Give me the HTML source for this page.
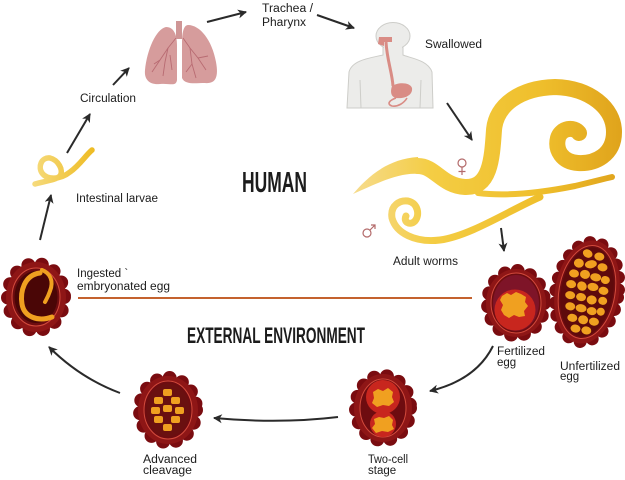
<!DOCTYPE html>
<html><head><meta charset="utf-8"><style>
html,body{margin:0;padding:0;background:#fff;}
svg{display:block;}
text{font-family:"Liberation Sans",sans-serif;fill:#1c1c1c;}
</style></head><body>
<svg width="625" height="480" viewBox="0 0 625 480" xmlns="http://www.w3.org/2000/svg">
<defs>
<marker id="ah" markerWidth="12" markerHeight="12" refX="8" refY="5" orient="auto" markerUnits="userSpaceOnUse">
<path d="M0,0.5 L9,5 L0,9.5 L2.5,5 Z" fill="#2a2a2a"/>
</marker>
<linearGradient id="wg" x1="350" y1="0" x2="620" y2="0" gradientUnits="userSpaceOnUse">
<stop offset="0" stop-color="#f6dc90"/><stop offset="0.3" stop-color="#f4cd44"/><stop offset="0.7" stop-color="#efbf2c"/><stop offset="1" stop-color="#e0a41c"/>
</linearGradient>
<linearGradient id="lg" x1="30" y1="0" x2="95" y2="0" gradientUnits="userSpaceOnUse">
<stop offset="0" stop-color="#f6dc80"/><stop offset="1" stop-color="#eebb22"/>
</linearGradient>
</defs>

<!-- ===== Arrows ===== -->
<g stroke="#2a2a2a" stroke-width="2" fill="none" marker-end="url(#ah)">
<line x1="40" y1="240" x2="51" y2="195"/>
<line x1="67" y1="153" x2="90" y2="114"/>
<line x1="113" y1="85" x2="129" y2="68"/>
<line x1="207" y1="22" x2="246" y2="12"/>
<line x1="317" y1="15" x2="354" y2="28"/>
<line x1="447" y1="103" x2="472" y2="140"/>
<line x1="501" y1="228" x2="504" y2="251"/>
<path d="M 493 346 Q 476 380 430 391"/>
<path d="M 338 417 Q 280 424 214 418"/>
<path d="M 120 393 Q 80 378 49 347"/>
</g>

<!-- ===== Lungs ===== -->
<g>
<rect x="176" y="21" width="6" height="18" fill="#cf9696"/>
<path d="M166 27 C156 29 147 50 145 70 C144 80 150 85 160 84 C170 83 176 87 177 80 L177 45 C177 35 174 27 166 27 Z" fill="#d69c9c"/>
<path d="M188 25 C200 25 212 40 216 62 C219 78 215 84 205 83 C195 83 185 85 182 78 L182 42 C182 32 184 25 188 25 Z" fill="#d69c9c"/>
<g stroke="#b86b72" stroke-width="0.9" fill="none">
<path d="M176 38 L168 48 L160 60 L152 72"/><path d="M168 48 L165 62 L163 76"/><path d="M160 60 L154 64"/><path d="M170 55 L172 70"/>
<path d="M183 38 L190 48 L198 58 L206 70"/><path d="M190 48 L192 64 L196 78"/><path d="M198 58 L208 56"/><path d="M192 64 L186 72"/>
</g>
</g>

<!-- ===== Human body ===== -->
<g fill="#ececea" stroke="#cdcdc9" stroke-width="1">
<path d="M383 46 L383 55 C370 58 352 60 349 72 L347 108 L433 108 L432 72 C428 60 410 58 403 55 L403 46 Z"/>
<ellipse cx="393" cy="36" rx="17" ry="13.5"/>
<rect x="384" y="44" width="18" height="12" stroke="none"/>
</g>
<g stroke="#cdcdc9" stroke-width="1" fill="none">
<path d="M360 80 L361 108"/><path d="M421 80 L420 108"/>
</g>
<g fill="#d98c85" stroke="#d98c85">
<path d="M379 37 L392 37 L392 42 L384 42 L384 46 L378 44 Z" stroke="none"/>
<path d="M386 42 C387 60 392 72 393 86" fill="none" stroke-width="3"/>
<path d="M392 86 C398 82 410 82 412 88 C413 95 405 99 396 98 C391 97 390 92 392 86 Z" stroke="none"/>
<path d="M396 98 C390 100 386 104 392 106 C398 107 404 103 407 98" fill="none" stroke-width="1.6"/>
</g>

<!-- ===== Worms ===== -->
<g fill="none" stroke="url(#wg)" stroke-linecap="round" stroke-linejoin="round">
<path d="M 478 193 C 510 197 545 192 575 186 C 592 182 603 179 612 177" stroke-width="6"/>
<path d="M 418 166 C 435 166 442 186 465 187 C 490 188 492 160 494 130 C 496 105 520 88 555 87 C 590 88 614 108 614 132 C 614 155 595 164 578 163 C 562 162 555 150 558 138 C 561 128 574 126 579 133" stroke-width="16"/>
<path d="M 540 197 C 510 210 470 236 440 240 C 415 243 396 233 392 218 C 390 205 400 200 408 201 C 418 203 420 215 415 221 C 410 226 403 222 406 216" stroke-width="7"/>
</g>
<path d="M353 194 C 365 180 385 159 418 157 L 420 174 C 400 172 380 182 353 194 Z" fill="url(#wg)"/>
<g fill="none" stroke="#b36a6a" stroke-width="1.2">
<circle cx="462" cy="163" r="4"/><path d="M462 167 V175 M458.5 171.5 H465.5"/>
<circle cx="367" cy="233" r="4"/><path d="M370 230 L375 225 M371 225 H375 V229"/>
</g>

<!-- ===== Intestinal larva ===== -->
<path d="M35 184 C45 181 56 180 60 176 C64 170 58 160 50 158 C41 157 38 167 42 173 C47 180 60 180 70 172 C80 165 85 156 92 150" fill="none" stroke="url(#lg)" stroke-width="5.5" stroke-linecap="round"/>

<!-- ===== Orange divider ===== -->
<line x1="78" y1="298" x2="472" y2="298" stroke="#c4622e" stroke-width="2"/>

<!-- ===== Eggs ===== -->
<g transform="translate(36,297)">
<ellipse rx="28" ry="33" fill="none" stroke="#7a0c10" stroke-width="14" stroke-dasharray="0 13.6" stroke-linecap="round"/>
<ellipse rx="30" ry="35" fill="#8e1616"/>
<ellipse rx="24" ry="29" fill="#6e0c10" stroke="#d24a3c" stroke-width="1"/>
<ellipse rx="21.5" ry="26" fill="#4a0606"/>
<path d="M4 -24 C-12 -22 -16 -5 -14 7 C-12 20 2 25 16 20" fill="none" stroke="#f0a020" stroke-width="5" stroke-linecap="round"/>
<path d="M6 -27 C14 -24 18 -16 14 -6 C12 0 10 3 9 5" fill="none" stroke="#f0a020" stroke-width="4" stroke-linecap="round"/>
</g>
<g transform="translate(168,410)">
<ellipse rx="28" ry="32" fill="none" stroke="#7a0c10" stroke-width="14" stroke-dasharray="0 13" stroke-linecap="round"/>
<ellipse rx="30" ry="34" fill="#8e1616"/>
<ellipse rx="24" ry="29" fill="#6e0c10" stroke="#d24a3c" stroke-width="1"/>
<ellipse rx="21.5" ry="26.5" fill="#6a1010"/>
<g fill="#f0a020">
<rect x="-5" y="-21" width="9" height="7" rx="2"/>
<rect x="-14" y="-13" width="9" height="7" rx="2"/><rect x="3" y="-13" width="9" height="7" rx="2"/>
<rect x="-17" y="-3" width="9" height="7" rx="2"/><rect x="-5" y="-5" width="9" height="7" rx="2"/><rect x="7" y="-3" width="9" height="7" rx="2"/>
<rect x="-14" y="6" width="9" height="7" rx="2"/><rect x="3" y="6" width="9" height="7" rx="2"/>
<rect x="-5" y="14" width="9" height="7" rx="2"/>
</g>
</g>
<g transform="translate(383,408)">
<ellipse rx="27" ry="32" fill="none" stroke="#7a0c10" stroke-width="14" stroke-dasharray="0 13" stroke-linecap="round"/>
<ellipse rx="29" ry="34" fill="#8e1616"/>
<ellipse rx="23" ry="29" fill="#6e0c10" stroke="#d24a3c" stroke-width="1"/>
<circle cx="0" cy="-11" r="17" fill="#c8261e"/>
<circle cx="0" cy="16" r="13" fill="#c8261e"/>
</g>
<polygon points="373,392 378,389 383,391 388,388 393,392 392,397 394,402 389,406 383,405 377,407 372,403 374,398" fill="#f0a020"/>
<polygon points="374,419 379,417 384,418 389,416 393,420 392,425 394,429 388,432 382,431 376,433 372,428 375,424" fill="#f0a020"/>
<g transform="translate(516,303)">
<ellipse rx="28" ry="32" fill="none" stroke="#7a0c10" stroke-width="14" stroke-dasharray="0 13" stroke-linecap="round"/>
<ellipse rx="30" ry="34" fill="#8e1616"/>
<ellipse rx="25" ry="30" fill="#6e0c10" stroke="#d24a3c" stroke-width="1"/>
<ellipse rx="23" ry="28" fill="#7e1428"/>
<circle cx="-1" cy="7" r="20.5" fill="#c8261e"/>
</g>
<polygon points="502,296 507,293 511,295 516,292 521,294 526,297 525,302 528,306 524,311 525,316 519,317 514,315 509,318 504,315 501,310 503,305 500,300" fill="#f0a020"/>
<g transform="translate(587,292) rotate(10)">
<ellipse rx="31" ry="50" fill="none" stroke="#7a0c10" stroke-width="13" stroke-dasharray="0 12.5" stroke-linecap="round"/>
<ellipse rx="32" ry="52" fill="#8e1616"/>
<ellipse rx="28" ry="47" fill="#6e0c10" stroke="#d24a3c" stroke-width="1"/>
<ellipse rx="26" ry="45" fill="#5e0a0c"/>
<g fill="#f0a020">
<ellipse cx="-6" cy="-38" rx="5" ry="4" transform="rotate(20 -6 -38)"/><ellipse cx="6" cy="-37" rx="5" ry="4"/>
<ellipse cx="-13" cy="-27" rx="5" ry="4.5"/><ellipse cx="-1" cy="-28" rx="6" ry="4" transform="rotate(-20 -1 -28)"/><ellipse cx="11" cy="-27" rx="5" ry="4"/>
<ellipse cx="-16" cy="-16" rx="5" ry="4"/><ellipse cx="-5" cy="-17" rx="5" ry="4.5"/><ellipse cx="6" cy="-16" rx="5.5" ry="4"/><ellipse cx="16" cy="-15" rx="4.5" ry="4"/>
<ellipse cx="-17" cy="-5" rx="5" ry="4"/><ellipse cx="-6" cy="-5" rx="5" ry="4.5" transform="rotate(30 -6 -5)"/><ellipse cx="5" cy="-6" rx="5.5" ry="4"/><ellipse cx="16" cy="-4" rx="5" ry="4"/>
<ellipse cx="-16" cy="6" rx="5" ry="4"/><ellipse cx="-5" cy="6" rx="5" ry="4"/><ellipse cx="6" cy="7" rx="5" ry="4.5"/><ellipse cx="17" cy="6" rx="4.5" ry="4"/>
<ellipse cx="-14" cy="17" rx="5" ry="4"/><ellipse cx="-3" cy="17" rx="5.5" ry="4"/><ellipse cx="8" cy="18" rx="5" ry="4"/><ellipse cx="17" cy="17" rx="4" ry="4"/>
<ellipse cx="-10" cy="28" rx="5" ry="4"/><ellipse cx="1" cy="28" rx="5" ry="4.5"/><ellipse cx="12" cy="28" rx="5" ry="4"/>
<ellipse cx="-5" cy="38" rx="5" ry="4"/><ellipse cx="6" cy="38" rx="5" ry="4"/>
</g>
</g>

<!-- ===== Labels ===== -->
<g font-size="11.5">
<text x="262" y="12" textLength="51" lengthAdjust="spacingAndGlyphs">Trachea /</text>
<text x="262" y="26" textLength="44" lengthAdjust="spacingAndGlyphs">Pharynx</text>
<text x="425" y="48" textLength="57" lengthAdjust="spacingAndGlyphs">Swallowed</text>
<text x="80" y="102" textLength="56" lengthAdjust="spacingAndGlyphs">Circulation</text>
<text x="76" y="202" textLength="82" lengthAdjust="spacingAndGlyphs">Intestinal larvae</text>
<text x="393" y="265" textLength="65" lengthAdjust="spacingAndGlyphs">Adult worms</text>
<text x="77" y="277">Ingested `</text>
<text x="77" y="290" textLength="93" lengthAdjust="spacingAndGlyphs">embryonated egg</text>
<text x="497" y="355" textLength="48" lengthAdjust="spacingAndGlyphs">Fertilized</text>
<text x="497" y="366">egg</text>
<text x="560" y="370" textLength="60" lengthAdjust="spacingAndGlyphs">Unfertilized</text>
<text x="560" y="380">egg</text>
<text x="368" y="463" textLength="40" lengthAdjust="spacingAndGlyphs">Two-cell</text>
<text x="368" y="474">stage</text>
<text x="143" y="463" textLength="54" lengthAdjust="spacingAndGlyphs">Advanced</text>
<text x="143" y="474" textLength="49" lengthAdjust="spacingAndGlyphs">cleavage</text>
</g>
<text x="242" y="192" font-size="29" font-weight="bold" textLength="65" lengthAdjust="spacingAndGlyphs" fill="#111">HUMAN</text>
<text x="187" y="343" font-size="22" font-weight="bold" textLength="178" lengthAdjust="spacingAndGlyphs" fill="#111">EXTERNAL ENVIRONMENT</text>
</svg>
</body></html>
